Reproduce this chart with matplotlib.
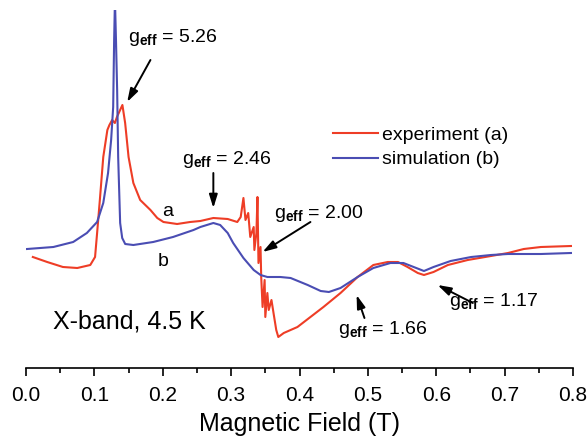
import matplotlib
matplotlib.use('Agg')
import matplotlib.pyplot as plt
from matplotlib.ticker import MultipleLocator

plt.rcParams['font.family'] = ['Liberation Sans', 'DejaVu Sans']
plt.rcParams['mathtext.fontset'] = 'custom'
plt.rcParams['mathtext.rm'] = 'Liberation Sans'
plt.rcParams['mathtext.it'] = 'Liberation Sans:italic'
plt.rcParams['mathtext.bf'] = 'Liberation Sans:bold'

# experiment (a) (field in T, signal in arb. units)
field_exp = [0.010, 0.031, 0.054, 0.075, 0.094, 0.101, 0.104, 0.108, 0.113, 0.119,
             0.122, 0.126, 0.130, 0.133, 0.141, 0.145, 0.150, 0.157, 0.167, 0.182,
             0.192, 0.201, 0.221, 0.240, 0.255, 0.274, 0.295, 0.309, 0.314, 0.318,
             0.321, 0.325, 0.328, 0.333, 0.334, 0.337, 0.3385, 0.340, 0.343, 0.344,
             0.346, 0.349, 0.350, 0.353, 0.355, 0.359, 0.362, 0.366, 0.369, 0.377,
             0.397, 0.416, 0.435, 0.460, 0.485, 0.508, 0.529, 0.544, 0.558, 0.573,
             0.582, 0.596, 0.617, 0.646, 0.680, 0.705, 0.728, 0.753, 0.797]
signal_exp = [1.11, 1.06, 1.01, 1.00, 1.03, 1.11, 1.35, 1.68, 2.11, 2.38,
              2.43, 2.48, 2.45, 2.51, 2.63, 2.45, 2.11, 1.85, 1.68, 1.58,
              1.50, 1.46, 1.44, 1.46, 1.47, 1.50, 1.49, 1.46, 1.51, 1.70,
              1.48, 1.55, 1.31, 1.41, 1.18, 1.35, 1.71, 1.05, 1.21, 0.91,
              0.61, 0.88, 0.51, 0.75, 0.58, 0.68, 0.55, 0.38, 0.31, 0.35,
              0.41, 0.51, 0.61, 0.75, 0.91, 1.03, 1.06, 1.06, 1.01, 0.95,
              0.93, 0.96, 1.03, 1.08, 1.12, 1.15, 1.19, 1.21, 1.22]

# simulation (b)
field_sim = [0.0015, 0.040, 0.069, 0.089, 0.104, 0.113, 0.120, 0.1245, 0.1275, 0.1289,
             0.1301, 0.1316, 0.1333, 0.1348, 0.1377, 0.1407, 0.1451, 0.157, 0.186, 0.215,
             0.245, 0.255, 0.274, 0.284, 0.295, 0.303, 0.318, 0.333, 0.343, 0.353,
             0.372, 0.387, 0.412, 0.431, 0.443, 0.460, 0.485, 0.508, 0.533, 0.552,
             0.567, 0.582, 0.596, 0.621, 0.651, 0.680, 0.705, 0.753, 0.797]
signal_sim = [1.19, 1.21, 1.26, 1.35, 1.46, 1.65, 1.95, 2.28, 2.61, 3.28,
              3.68, 3.28, 2.78, 2.11, 1.45, 1.30, 1.24, 1.23, 1.26, 1.31,
              1.38, 1.41, 1.45, 1.43, 1.35, 1.25, 1.10, 0.98, 0.93, 0.91,
              0.91, 0.90, 0.83, 0.77, 0.76, 0.80, 0.91, 1.00, 1.05, 1.05,
              1.01, 0.97, 1.01, 1.07, 1.11, 1.13, 1.14, 1.14, 1.15]

ticks = [0.0, 0.1, 0.2, 0.3, 0.4, 0.5, 0.6, 0.7, 0.8]
tick_labels = ['0.0', '0.1', '0.2', '0.3', '0.4', '0.5', '0.6', '0.7', '0.8']

red = '#ee3d26'
blue = '#4a4db3'

fig = plt.figure(figsize=(5.87, 4.41), dpi=100)
ax = fig.add_axes([26 / 587, 73 / 441, 547 / 587, 358 / 441])

ax.plot(field_exp, signal_exp, color=red, lw=1.5, label='experiment (a)')
ax.plot(field_sim, signal_sim, color=blue, lw=1.5, label='simulation (b)')

ax.set_xlim(0, 0.8)
ax.set_ylim(0, 3.58)
for side in ['left', 'right', 'top']:
    ax.spines[side].set_visible(False)
ax.spines['bottom'].set_linewidth(1.2)
ax.set_yticks([])
ax.set_xticks(ticks)
ax.set_xticklabels(tick_labels, fontsize=15)
ax.xaxis.set_minor_locator(MultipleLocator(0.05))
ax.tick_params(axis='x', which='major', direction='out', length=6, width=1.2, pad=7)
ax.tick_params(axis='x', which='minor', direction='out', length=3.5, width=1.2)
ax.set_xlabel('Magnetic Field (T)', fontsize=18, labelpad=5)

arrow = dict(arrowstyle='-|>,head_length=0.8,head_width=0.25', color='black',
             lw=1.4, shrinkA=0, shrinkB=0)
fs = 14
ax.text(0.1495, 3.31, r'g$_{\mathbf{eff}}$ = 5.26', fontsize=fs, va='center', ha='left')
ax.annotate('', xy=(0.148, 2.66), xytext=(0.182, 3.08), arrowprops=arrow)

ax.text(0.2286, 2.08, r'g$_{\mathbf{eff}}$ = 2.46', fontsize=fs, va='center', ha='left')
ax.annotate('', xy=(0.274, 1.6), xytext=(0.274, 1.95), arrowprops=arrow)

ax.text(0.362, 1.55, r'g$_{\mathbf{eff}}$ = 2.00', fontsize=fs, va='center', ha='left')
ax.annotate('', xy=(0.346, 1.16), xytext=(0.416, 1.46), arrowprops=arrow)

ax.text(0.4557, 0.38, r'g$_{\mathbf{eff}}$ = 1.66', fontsize=fs, va='center', ha='left')
ax.annotate('', xy=(0.4835, 0.73), xytext=(0.495, 0.50), arrowprops=arrow)

ax.text(0.6183, 0.66, r'g$_{\mathbf{eff}}$ = 1.17', fontsize=fs, va='center', ha='left')
ax.annotate('', xy=(0.602, 0.83), xytext=(0.6535, 0.65), arrowprops=arrow)

ax.text(0.2066, 1.57, 'a', fontsize=fs, ha='center', va='center')
ax.text(0.2007, 1.07, 'b', fontsize=fs, ha='center', va='center')
ax.text(0.0396, 0.46, 'X-band, 4.5 K', fontsize=18, ha='left', va='center')

ax.legend(loc='upper left', bbox_to_anchor=(0.561, 0.675), frameon=False,
          fontsize=fs, handlelength=2.3, handletextpad=0.25, labelspacing=0.35,
          borderpad=0, borderaxespad=0)

fig.savefig('out.png', dpi=100)
